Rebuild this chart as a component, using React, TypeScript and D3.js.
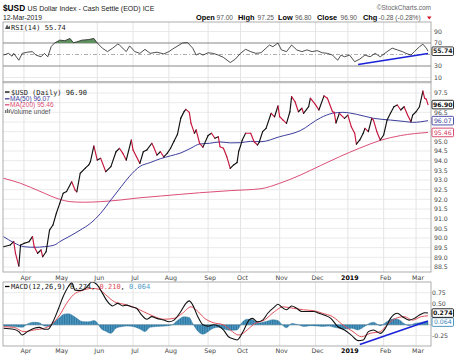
import React from 'react';
import * as d3 from 'd3';

const HOLIDAYS = ["2018-03-30","2018-05-28","2018-07-04","2018-09-03","2018-11-22","2018-12-05","2018-12-25","2019-01-01","2019-01-21","2019-02-18"];
const START = "2018-03-14";
const END = "2019-03-12";
const MONTHS = ["Jan","Feb","Mar","Apr","May","Jun","Jul","Aug","Sep","Oct","Nov","Dec"];

const closeSeries: [string, number][] = [
["2018-03-14",89.55],["2018-03-20",89.64],["2018-03-22",89.81],["2018-03-23",89.22],["2018-03-27",88.55],["2018-03-28",89.64],
["2018-04-02",89.72],["2018-04-05",89.81],["2018-04-09",90.07],["2018-04-10",89.55],["2018-04-12",89.21],["2018-04-16",89.38],
["2018-04-17",89.03],["2018-04-19",89.29],["2018-04-23",90.41],["2018-04-25",90.67],["2018-04-27",91.28],["2018-05-01",91.79],
["2018-05-03",92.31],["2018-05-07",92.4],["2018-05-10",92.91],["2018-05-14",92.48],["2018-05-15",92.39],["2018-05-17",93.35],
["2018-05-22",93.61],["2018-05-24",93.78],["2018-05-25",93.95],["2018-05-30",94.76],["2018-06-01",94.03],["2018-06-05",94.12],
["2018-06-08",93.43],["2018-06-13",93.69],["2018-06-18",94.46],["2018-06-20",94.64],["2018-06-22",94.38],["2018-06-26",94.03],
["2018-06-29",95.07],["2018-07-02",94.55],["2018-07-05",94.2],["2018-07-09",93.86],["2018-07-11",94.46],["2018-07-13",94.55],
["2018-07-18",94.9],["2018-07-19",94.72],["2018-07-23",94.29],["2018-07-25",94.46],["2018-07-27",94.2],["2018-07-31",94.38],
["2018-08-02",94.64],["2018-08-06",95.0],["2018-08-08",95.35],["2018-08-10",96.2],["2018-08-14",96.55],["2018-08-15",96.65],
["2018-08-17",96.5],["2018-08-20",95.93],["2018-08-22",95.42],["2018-08-23",95.59],["2018-08-27",94.9],["2018-08-29",94.7],
["2018-09-04",95.3],["2018-09-06",95.42],["2018-09-10",95.16],["2018-09-12",95.24],["2018-09-13",94.72],["2018-09-17",94.64],
["2018-09-19",94.2],["2018-09-21",93.6],["2018-09-25",93.78],["2018-09-27",93.9],["2018-09-28",94.5],["2018-10-01",94.75],
["2018-10-02",95.05],["2018-10-04",95.42],["2018-10-09",95.42],["2018-10-11",94.98],["2018-10-15",94.81],["2018-10-16",94.95],
["2018-10-18",95.5],["2018-10-22",95.67],["2018-10-25",96.45],["2018-10-29",96.27],["2018-10-31",96.83],["2018-11-01",96.27],
["2018-11-05",96.1],["2018-11-07",95.93],["2018-11-09",96.53],["2018-11-12",97.31],["2018-11-14",97.05],["2018-11-16",96.53],
["2018-11-20",96.71],["2018-11-21",96.45],["2018-11-27",96.79],["2018-11-28",97.23],["2018-12-03",96.9],["2018-12-06",96.62],
["2018-12-11",97.35],["2018-12-13",97.23],["2018-12-18",96.53],["2018-12-19",96.5],["2018-12-20",95.95],["2018-12-24",96.45],
["2018-12-28",96.19],["2019-01-02",96.36],["2019-01-04",95.76],["2019-01-08",95.42],["2019-01-09",94.85],["2019-01-11",95.07],
["2019-01-15",95.42],["2019-01-16",95.67],["2019-01-18",95.5],["2019-01-23",96.19],["2019-01-24",96.1],["2019-01-28",95.5],
["2019-01-30",95.07],["2019-02-01",95.33],["2019-02-05",96.1],["2019-02-07",96.45],["2019-02-11",96.79],["2019-02-13",96.88],
["2019-02-15",96.62],["2019-02-20",96.79],["2019-02-22",96.36],["2019-02-26",96.02],["2019-02-27",96.36],["2019-03-01",96.53],
["2019-03-05",96.79],["2019-03-07",97.6],["2019-03-08",97.23],["2019-03-11",97.18],["2019-03-12",96.9]
];

const ma50Series: [string, number][] = [
["2018-03-14",90.07],["2018-03-22",89.76],["2018-04-02",89.55],["2018-04-10",89.52],["2018-04-18",89.55],["2018-04-26",89.64],
["2018-05-01",89.81],["2018-05-09",90.1],["2018-05-17",90.41],["2018-05-25",90.76],["2018-06-05",91.28],["2018-06-13",91.97],
["2018-06-21",92.65],["2018-06-28",93.2],["2018-07-09",93.7],["2018-07-17",93.9],["2018-07-25",94.1],["2018-08-02",94.25],
["2018-08-10",94.4],["2018-08-20",94.65],["2018-08-27",94.86],["2018-09-05",94.9],["2018-09-13",94.97],["2018-09-21",94.92],
["2018-10-01",94.93],["2018-10-09",95.0],["2018-10-17",94.98],["2018-11-01",95.24],["2018-11-19",95.55],["2018-12-07",96.22],
["2018-12-18",96.45],["2018-12-27",96.5],["2019-01-09",96.4],["2019-01-24",96.19],["2019-02-07",96.1],["2019-02-21",96.02],
["2019-02-27",95.98],["2019-03-12",96.07]
];

const ma200Series: [string, number][] = [
["2018-03-14",93.09],["2018-03-28",92.83],["2018-04-16",92.39],["2018-05-01",92.0],["2018-05-09",91.88],["2018-05-21",91.85],
["2018-06-05",91.88],["2018-06-21",91.97],["2018-07-09",92.08],["2018-07-25",92.17],["2018-08-10",92.26],["2018-08-27",92.34],
["2018-09-21",92.45],["2018-10-17",92.55],["2018-11-01",92.83],["2018-11-19",93.25],["2018-12-07",93.75],["2018-12-24",94.2],
["2019-01-11",94.65],["2019-01-30",95.05],["2019-02-15",95.3],["2019-03-12",95.46]
];

const rsiSeries: [string, number][] = [
["2018-03-14",49],["2018-03-19",52],["2018-03-21",47],["2018-03-22",52],["2018-03-27",40],["2018-03-29",52],["2018-04-04",54],
["2018-04-09",55],["2018-04-11",49],["2018-04-16",46],["2018-04-18",52],["2018-04-20",46],["2018-04-24",64],["2018-04-26",70],
["2018-05-01",75],["2018-05-04",74],["2018-05-09",78],["2018-05-11",70.5],["2018-05-15",72],["2018-05-18",75],["2018-05-24",76],
["2018-05-30",78],["2018-06-01",70],["2018-06-06",61],["2018-06-11",55],["2018-06-14",61],["2018-06-19",68],["2018-06-20",66.5],
["2018-06-26",55],["2018-06-28",65],["2018-07-03",55],["2018-07-09",52],["2018-07-12",59],["2018-07-17",52],["2018-07-23",54],
["2018-07-27",51],["2018-08-01",55],["2018-08-06",61],["2018-08-13",70],["2018-08-16",70.5],["2018-08-21",61],["2018-08-23",49],
["2018-08-27",52],["2018-08-29",49],["2018-09-04",53],["2018-09-07",52],["2018-09-12",49],["2018-09-17",45],["2018-09-21",36],
["2018-09-26",42],["2018-10-01",52],["2018-10-04",59],["2018-10-09",55],["2018-10-12",52],["2018-10-17",53],["2018-10-22",61],
["2018-10-24",66.5],["2018-10-26",63.5],["2018-10-31",70],["2018-11-02",58],["2018-11-07",55],["2018-11-12",66.5],["2018-11-15",58],
["2018-11-20",55],["2018-11-26",58],["2018-11-29",55],["2018-12-04",56.7],["2018-12-10",53],["2018-12-13",52],["2018-12-18",49],
["2018-12-21",40],["2018-12-26",49],["2018-12-28",46],["2019-01-03",49],["2019-01-08",37.5],["2019-01-11",42],["2019-01-16",49],
["2019-01-22",46],["2019-01-25",52],["2019-01-30",46],["2019-02-05",55],["2019-02-08",61],["2019-02-13",58],["2019-02-19",55],
["2019-02-21",52],["2019-02-26",49],["2019-02-28",55],["2019-03-05",63.5],["2019-03-07",68],["2019-03-11",61],["2019-03-12",55.74]
];

const macdSeries: [string, number][] = [
["2018-03-14",-0.08],["2018-03-22",-0.105],["2018-03-27",-0.16],["2018-03-29",-0.24],["2018-04-04",-0.16],["2018-04-10",-0.08],
["2018-04-13",-0.06],["2018-04-18",-0.105],["2018-04-20",-0.105],["2018-04-25",0.07],["2018-04-30",0.35],["2018-05-03",0.66],
["2018-05-08",0.89],["2018-05-10",0.98],["2018-05-14",0.81],["2018-05-17",0.8],["2018-05-22",0.85],["2018-05-29",1.0],
["2018-06-01",0.93],["2018-06-06",0.74],["2018-06-11",0.54],["2018-06-14",0.44],["2018-06-19",0.5],["2018-06-22",0.44],
["2018-06-26",0.46],["2018-06-29",0.42],["2018-07-05",0.385],["2018-07-10",0.23],["2018-07-13",0.13],["2018-07-18",0.19],
["2018-07-23",0.15],["2018-07-27",0.11],["2018-08-01",0.07],["2018-08-06",0.11],["2018-08-10",0.31],["2018-08-15",0.5],
["2018-08-17",0.56],["2018-08-21",0.46],["2018-08-24",0.19],["2018-08-29",0.0],["2018-09-04",-0.03],["2018-09-07",0.0],
["2018-09-12",-0.03],["2018-09-17",-0.12],["2018-09-20",-0.28],["2018-09-25",-0.33],["2018-09-27",-0.355],["2018-10-03",-0.12],
["2018-10-08",0.11],["2018-10-10",0.15],["2018-10-15",0.07],["2018-10-18",0.11],["2018-10-23",0.27],["2018-10-29",0.42],
["2018-10-31",0.48],["2018-11-02",0.42],["2018-11-07",0.35],["2018-11-12",0.44],["2018-11-15",0.385],["2018-11-20",0.31],
["2018-11-27",0.31],["2018-11-30",0.31],["2018-12-06",0.27],["2018-12-11",0.23],["2018-12-17",0.15],["2018-12-21",-0.04],
["2018-12-28",-0.12],["2019-01-04",-0.24],["2019-01-10",-0.37],["2019-01-15",-0.355],["2019-01-18",-0.16],["2019-01-24",-0.12],
["2019-01-30",-0.2],["2019-02-04",-0.08],["2019-02-07",0.15],["2019-02-13",0.27],["2019-02-19",0.19],["2019-02-25",0.11],
["2019-02-28",0.15],["2019-03-05",0.23],["2019-03-08",0.28],["2019-03-12",0.274]
];

const signalSeries: [string, number][] = [
["2018-03-14",-0.045],["2018-03-22",-0.06],["2018-04-02",-0.16],["2018-04-10",-0.12],["2018-04-18",-0.08],["2018-04-24",0.0],
["2018-05-01",0.23],["2018-05-07",0.5],["2018-05-11",0.7],["2018-05-18",0.8],["2018-05-29",0.85],["2018-06-04",0.83],
["2018-06-08",0.7],["2018-06-15",0.54],["2018-06-22",0.485],["2018-07-02",0.42],["2018-07-11",0.31],["2018-07-19",0.2],
["2018-07-27",0.13],["2018-08-06",0.15],["2018-08-13",0.27],["2018-08-20",0.42],["2018-08-23",0.35],["2018-08-30",0.15],
["2018-09-07",0.05],["2018-09-17",0.0],["2018-09-21",-0.12],["2018-09-28",-0.24],["2018-10-05",-0.12],["2018-10-11",0.02],
["2018-10-19",0.11],["2018-10-29",0.31],["2018-11-05",0.42],["2018-11-13",0.385],["2018-11-21",0.35],["2018-11-30",0.33],
["2018-12-10",0.27],["2018-12-18",0.19],["2018-12-27",0.0],["2019-01-07",-0.16],["2019-01-14",-0.28],["2019-01-22",-0.2],
["2019-01-30",-0.16],["2019-02-05",0.0],["2019-02-12",0.15],["2019-02-20",0.19],["2019-02-27",0.11],["2019-03-06",0.19],
["2019-03-12",0.21]
];

const histSeries: [string, number][] = [
["2018-03-14",-0.03],["2018-03-22",-0.04],["2018-03-29",-0.06],["2018-04-04",0.02],["2018-04-10",0.06],["2018-04-13",0.05],
["2018-04-18",-0.03],["2018-04-23",-0.04],["2018-04-26",0.08],["2018-05-01",0.17],["2018-05-03",0.24],["2018-05-08",0.26],
["2018-05-14",0.18],["2018-05-18",0.08],["2018-05-24",0.07],["2018-05-30",0.1],["2018-06-01",0.05],["2018-06-05",-0.08],
["2018-06-08",-0.15],["2018-06-13",-0.2],["2018-06-18",-0.08],["2018-06-22",-0.04],["2018-06-27",-0.03],["2018-07-03",-0.05],
["2018-07-09",-0.1],["2018-07-12",-0.16],["2018-07-17",-0.06],["2018-07-23",-0.04],["2018-07-30",-0.03],["2018-08-03",0.0],
["2018-08-08",0.1],["2018-08-14",0.19],["2018-08-17",0.17],["2018-08-21",0.03],["2018-08-24",-0.15],["2018-08-29",-0.22],
["2018-09-04",-0.16],["2018-09-07",-0.08],["2018-09-12",-0.06],["2018-09-17",-0.1],["2018-09-21",-0.13],["2018-09-27",-0.12],
["2018-10-02",0.06],["2018-10-05",0.13],["2018-10-10",0.12],["2018-10-16",0.05],["2018-10-22",0.08],["2018-10-26",0.12],
["2018-10-31",0.1],["2018-11-02",0.02],["2018-11-07",-0.07],["2018-11-12",0.03],["2018-11-16",0.0],["2018-11-21",-0.04],
["2018-11-28",-0.02],["2018-12-04",-0.03],["2018-12-10",-0.04],["2018-12-14",-0.03],["2018-12-19",-0.06],["2018-12-24",-0.08],
["2018-12-31",-0.1],["2019-01-04",-0.08],["2019-01-10",-0.12],["2019-01-15",-0.06],["2019-01-18",0.02],["2019-01-24",0.06],
["2019-01-30",-0.02],["2019-02-05",0.08],["2019-02-11",0.14],["2019-02-14",0.12],["2019-02-20",0.03],["2019-02-25",-0.02],
["2019-02-28",0.03],["2019-03-05",0.05],["2019-03-08",0.07],["2019-03-12",0.064]
];

const rsiTrend: [string, number][] = [["2019-01-10",32.6],["2019-03-12",51.7]];
const macdTrend: [string, number][] = [["2019-01-11",-0.46],["2019-03-12",0.09]];

const priceTicks = [88.5,89.0,89.5,90.0,90.5,91.0,91.5,92.0,92.5,93.0,93.5,94.0,94.5,95.0,95.5,96.0,96.5,97.0,97.5];
const rsiTicks = [10,30,50,70,90];
const macdTicks = [-0.25,0,0.25,0.5,0.75];

const quoteLabels = ["Open","High","Low","Close","Chg"];
const quoteValues = ["97.00","97.25","96.80","96.90","-0.28 (-0.28%)"];

function buildDays(): string[] {
  const out: string[] = [];
  const s = new Date(START + "T00:00:00Z").getTime();
  const e = new Date(END + "T00:00:00Z").getTime();
  for (let t = s; t <= e; t += 86400000) {
    const d = new Date(t);
    const wd = d.getUTCDay();
    const k = d.toISOString().slice(0, 10);
    if (wd !== 0 && wd !== 6 && !HOLIDAYS.includes(k)) out.push(k);
  }
  return out;
}

const AX = "DejaVu Sans";
const MONO = "DejaVu Sans Mono";
const SANS = "Liberation Sans";

export default function App() {
  const days = buildDays();
  const idx = new Map<string, number>();
  days.forEach((d, i) => idx.set(d, i));
  const L = 3, R = 431;
  const x = d3.scaleLinear().domain([0, days.length - 1]).range([3.5, 428]);
  const xd = (d: string) => x(idx.get(d) ?? 0);

  const rsiTop = 22, rsiBot = 82;
  const mainTop = 82, mainBot = 272;
  const macdTop = 282, macdBot = 346;

  const yP = d3.scaleLinear().domain([88.5, 97.5]).range([267, 93]);
  const yR = d3.scaleLinear().domain([30, 70]).range([66, 43]);
  const yM = d3.scaleLinear().domain([-0.25, 0.75]).range([335.5, 292.7]);

  const monthTicks: { i: number; label: string; bold: boolean }[] = [];
  days.forEach((d, i) => {
    if (i === 0) return;
    if (d.slice(5, 7) !== days[i - 1].slice(5, 7)) {
      const m = +d.slice(5, 7) - 1;
      monthTicks.push({ i, label: m === 0 ? d.slice(0, 4) : MONTHS[m], bold: m === 0 });
    }
  });

  const lineGen = (ys: d3.ScaleLinear<number, number>, curve = d3.curveLinear) =>
    d3.line<[string, number]>().x(p => xd(p[0])).y(p => ys(p[1])).curve(curve);

  const pricePaths = closeSeries.slice(1).map((p, k) => {
    const prev = closeSeries[k];
    return { d: lineGen(yP)([prev, p]) || "", up: p[1] > prev[1] };
  });

  const rsiArea = d3.area<[string, number]>().x(p => xd(p[0])).y0(yR(70)).y1(p => yR(p[1]));
  const histArea = d3.area<[string, number]>().x(p => xd(p[0])).y0(yM(0)).y1(p => yM(p[1])).curve(d3.curveMonotoneX);

  const grid = "#e4e4e4";
  const border = "#9a9a9a";
  const tickCol = "#444";

  const vGrid = (top: number, bot: number) =>
    monthTicks.map(t => <line key={"v" + t.i + top} x1={x(t.i)} x2={x(t.i)} y1={top} y2={bot} stroke={grid} strokeWidth={1} />);

  const xLabels = (yy: number) =>
    monthTicks.map(t => (
      <text key={"xl" + t.i + yy} x={x(t.i) + 2} y={yy} textAnchor="middle" fontFamily={AX} fontSize={6.3}
        fontWeight={t.bold ? "bold" : "normal"} fill={t.bold ? "#000" : tickCol}>{t.label}</text>
    ));

  const valueBox = (yy: number, txt: string, col: string, bold = false, key = "") => (
    <g key={key}>
      <rect x={432} y={yy - 4.3} width={21.5} height={8.6} fill="#fff" stroke={col} strokeWidth={0.9} rx={1} />
      <text x={442.75} y={yy + 2.2} textAnchor="middle" fontFamily={AX} fontSize={6.2} fontWeight={bold ? "bold" : "normal"} fill={col}>{txt}</text>
    </g>
  );

  const last = closeSeries[closeSeries.length - 1][1];
  const lastMa50 = ma50Series[ma50Series.length - 1][1];
  const lastMa200 = ma200Series[ma200Series.length - 1][1];
  const lastRsi = rsiSeries[rsiSeries.length - 1][1];
  const lastMacd = macdSeries[macdSeries.length - 1][1];
  const lastSig = signalSeries[signalSeries.length - 1][1];
  const lastHist = histSeries[histSeries.length - 1][1];

  const priceBoxes = [yP(last), yP(lastMa50), yP(lastMa200)];
  const rsiBoxes = [yR(lastRsi)];
  const macdBoxes = [yM(lastMacd), yM(lastHist)];
  const free = (yy: number, boxes: number[]) => boxes.every(b => Math.abs(b - yy) > 6.5);

  const step = x(1) - x(0);
  const labelX = [196, 238, 278, 317, 363];
  const valueX = [216.5, 257.5, 295, 340.5, 378.5];

  return (
    <div style={{ position: "absolute", left: 0, top: 0 }}>
      <svg width={458} height={363} xmlns="http://www.w3.org/2000/svg" style={{ display: "block", background: "#fff" }}>
        <defs>
          <clipPath id="cR"><rect x={L} y={rsiTop} width={R - L} height={rsiBot - rsiTop} /></clipPath>
          <clipPath id="cR70"><rect x={L} y={rsiTop} width={R - L} height={yR(70) - rsiTop} /></clipPath>
          <clipPath id="cP"><rect x={L} y={mainTop} width={R - L} height={mainBot - mainTop} /></clipPath>
          <clipPath id="cM"><rect x={L} y={macdTop} width={R - L} height={macdBot - macdTop} /></clipPath>
          <pattern id="hp" width={step} height={6} patternUnits="userSpaceOnUse" x={x(0) - step / 2}>
            <rect x={0} y={0} width={step} height={6} fill="#4d9dc9" />
            <rect x={0} y={0} width={0.55} height={6} fill="#1f5d82" />
          </pattern>
        </defs>

        {/* Header */}
        <text x={3} y={11} fontFamily={SANS} fontSize={8.3} fontWeight="bold" fill="#000">$USD</text>
        <text x={27.5} y={11} fontFamily={SANS} fontSize={7} fill="#222">US Dollar Index - Cash Settle (EOD) ICE</text>
        <text x={3} y={19.5} fontFamily={SANS} fontSize={6.8} fill="#222">12-Mar-2019</text>
        <text x={431} y={10} textAnchor="end" fontFamily={SANS} fontSize={6.5} fill="#666">©StockCharts.com</text>
        {quoteLabels.map((q, k) => (
          <text key={"ql" + k} x={labelX[k]} y={19.5} fontFamily={SANS} fontSize={7.4} fontWeight="bold" fill="#000">{q}</text>
        ))}
        {quoteValues.map((q, k) => (
          <text key={"qv" + k} x={valueX[k]} y={19.5} fontFamily={SANS} fontSize={6.6} fill="#555">{q}</text>
        ))}
        <path d="M427,16.5 L431.5,16.5 L429.25,19.5 Z" fill="#d01020" />

        {/* RSI panel */}
        {vGrid(rsiTop, rsiBot)}
        {rsiTicks.map(t => (t === 70 || t === 30) ? null : (
          <line key={"rg" + t} x1={L} x2={R} y1={yR(t)} y2={yR(t)} stroke={t === 50 ? "#999" : grid} strokeDasharray={t === 50 ? "4,2,1,2" : undefined} strokeWidth={0.8} />
        ))}
        <line x1={L} x2={R} y1={yR(70)} y2={yR(70)} stroke="#888" strokeWidth={1} />
        <line x1={L} x2={R} y1={yR(30)} y2={yR(30)} stroke="#888" strokeWidth={1} />
        <g clipPath="url(#cR)">
          <g clipPath="url(#cR70)">
            <path d={rsiArea(rsiSeries) || ""} fill="#5e8f5e" stroke="none" />
          </g>
          <path d={lineGen(yR)(rsiSeries) || ""} fill="none" stroke="#222" strokeWidth={0.8} />
          <path d={lineGen(yR)(rsiTrend) || ""} fill="none" stroke="#1a22d8" strokeWidth={1.6} />
        </g>
        <rect x={L} y={rsiTop} width={R - L} height={rsiBot - rsiTop} fill="none" stroke={border} strokeWidth={0.8} />
        <path d="M5,29 L7,24.5 L8.5,27 L10,25.5 L10,29 Z" fill="#555" />
        <text x={11} y={29.5} fontFamily={MONO} fontSize={7} fill="#222">RSI(14) {lastRsi.toFixed(2)}</text>
        {rsiTicks.filter(t => free(yR(t), rsiBoxes)).map(t => (
          <text key={"rt" + t} x={434} y={yR(t) + 2.2} fontFamily={AX} fontSize={6.2} fill={tickCol}>{t}</text>
        ))}
        {valueBox(yR(lastRsi), lastRsi.toFixed(2), "#222", true, "rb")}

        {/* Main panel */}
        {vGrid(mainTop, mainBot)}
        {priceTicks.map(t => (
          <line key={"pg" + t} x1={L} x2={R} y1={yP(t)} y2={yP(t)} stroke={grid} strokeWidth={0.8} />
        ))}
        <line x1={L} x2={R} y1={yP(98)} y2={yP(98)} stroke={grid} strokeWidth={0.8} />
        <g clipPath="url(#cP)">
          <path d={lineGen(yP, d3.curveMonotoneX)(ma200Series) || ""} fill="none" stroke="#dc4f78" strokeWidth={1} />
          <path d={lineGen(yP, d3.curveMonotoneX)(ma50Series) || ""} fill="none" stroke="#3d3d9e" strokeWidth={1} />
          {pricePaths.map((p, k) => (
            <path key={"pp" + k} d={p.d} fill="none" stroke={p.up ? "#111" : "#c4153b"} strokeWidth={1.15} strokeLinecap="round" />
          ))}
        </g>
        <rect x={L} y={mainTop} width={R - L} height={mainBot - mainTop} fill="none" stroke={border} strokeWidth={0.8} />
        <line x1={5} x2={9.5} y1={92} y2={92} stroke="#000" strokeWidth={1.3} />
        <text x={11} y={94.5} fontFamily={MONO} fontSize={7} fill="#222">$USD (Daily) {last.toFixed(2)}</text>
        <line x1={5} x2={9.5} y1={98.8} y2={98.8} stroke="#3d3d9e" strokeWidth={1.3} />
        <text x={10} y={101.2} fontFamily={SANS} fontSize={6.6} fill="#3d3d9e">MA(50) {lastMa50.toFixed(2)}</text>
        <line x1={5} x2={9.5} y1={104.8} y2={104.8} stroke="#dc4f78" strokeWidth={1.3} />
        <text x={10} y={107.2} fontFamily={SANS} fontSize={6.6} fill="#dc4f78">MA(200) {lastMa200.toFixed(2)}</text>
        <rect x={5} y={110} width={1.3} height={3} fill="#777" />
        <rect x={6.8} y={108.8} width={1.3} height={4.2} fill="#777" />
        <rect x={8.6} y={109.8} width={1.3} height={3.2} fill="#777" />
        <text x={10} y={113.5} fontFamily={SANS} fontSize={6.6} fill="#555">Volume undef</text>
        {priceTicks.filter(t => free(yP(t), priceBoxes)).map(t => (
          <text key={"pt" + t} x={434} y={yP(t) + 2.2} fontFamily={AX} fontSize={6.2} fill={tickCol}>{t.toFixed(1)}</text>
        ))}
        {valueBox(yP(lastMa200), lastMa200.toFixed(2), "#d23a60", false, "b200")}
        {valueBox(yP(lastMa50), lastMa50.toFixed(2), "#3d3d9e", false, "b50")}
        {valueBox(yP(last), last.toFixed(2), "#111", true, "bp")}

        {/* X labels between */}
        {xLabels(279.5)}

        {/* MACD panel */}
        {vGrid(macdTop, macdBot)}
        {macdTicks.map(t => (
          <line key={"mg" + t} x1={L} x2={R} y1={yM(t)} y2={yM(t)} stroke={t === 0 ? "#bbb" : grid} strokeWidth={0.8} />
        ))}
        <g clipPath="url(#cM)">
          <path d={histArea(histSeries) || ""} fill="url(#hp)" stroke="#2a6f96" strokeWidth={0.4} />
          <path d={lineGen(yM, d3.curveMonotoneX)(signalSeries) || ""} fill="none" stroke="#e0505a" strokeWidth={1} />
          <path d={lineGen(yM, d3.curveMonotoneX)(macdSeries) || ""} fill="none" stroke="#111" strokeWidth={1.1} />
          <path d={lineGen(yM)(macdTrend) || ""} fill="none" stroke="#1a22d8" strokeWidth={1.6} />
        </g>
        <rect x={L} y={macdTop} width={R - L} height={macdBot - macdTop} fill="none" stroke={border} strokeWidth={0.8} />
        <line x1={5} x2={9.5} y1={286.5} y2={286.5} stroke="#000" strokeWidth={1.3} />
        <text x={11} y={289} fontFamily={MONO} fontSize={7} fill="#222">
          MACD(12,26,9) {lastMacd.toFixed(3)}, <tspan fill="#e0505a">{lastSig.toFixed(3)}</tspan>, <tspan fill="#4d9dc9">{lastHist.toFixed(3)}</tspan>
        </text>
        {macdTicks.filter(t => free(yM(t), macdBoxes)).map(t => (
          <text key={"mt" + t} x={432} y={yM(t) + 2.2} fontFamily={AX} fontSize={6.2} fill={tickCol}>{t.toFixed(2)}</text>
        ))}
        {valueBox(yM(lastHist), lastHist.toFixed(3), "#3b88b8", false, "bh")}
        {valueBox(yM(lastMacd), lastMacd.toFixed(3), "#111", true, "bm")}

        {xLabels(352.5)}
      </svg>
    </div>
  );
}
